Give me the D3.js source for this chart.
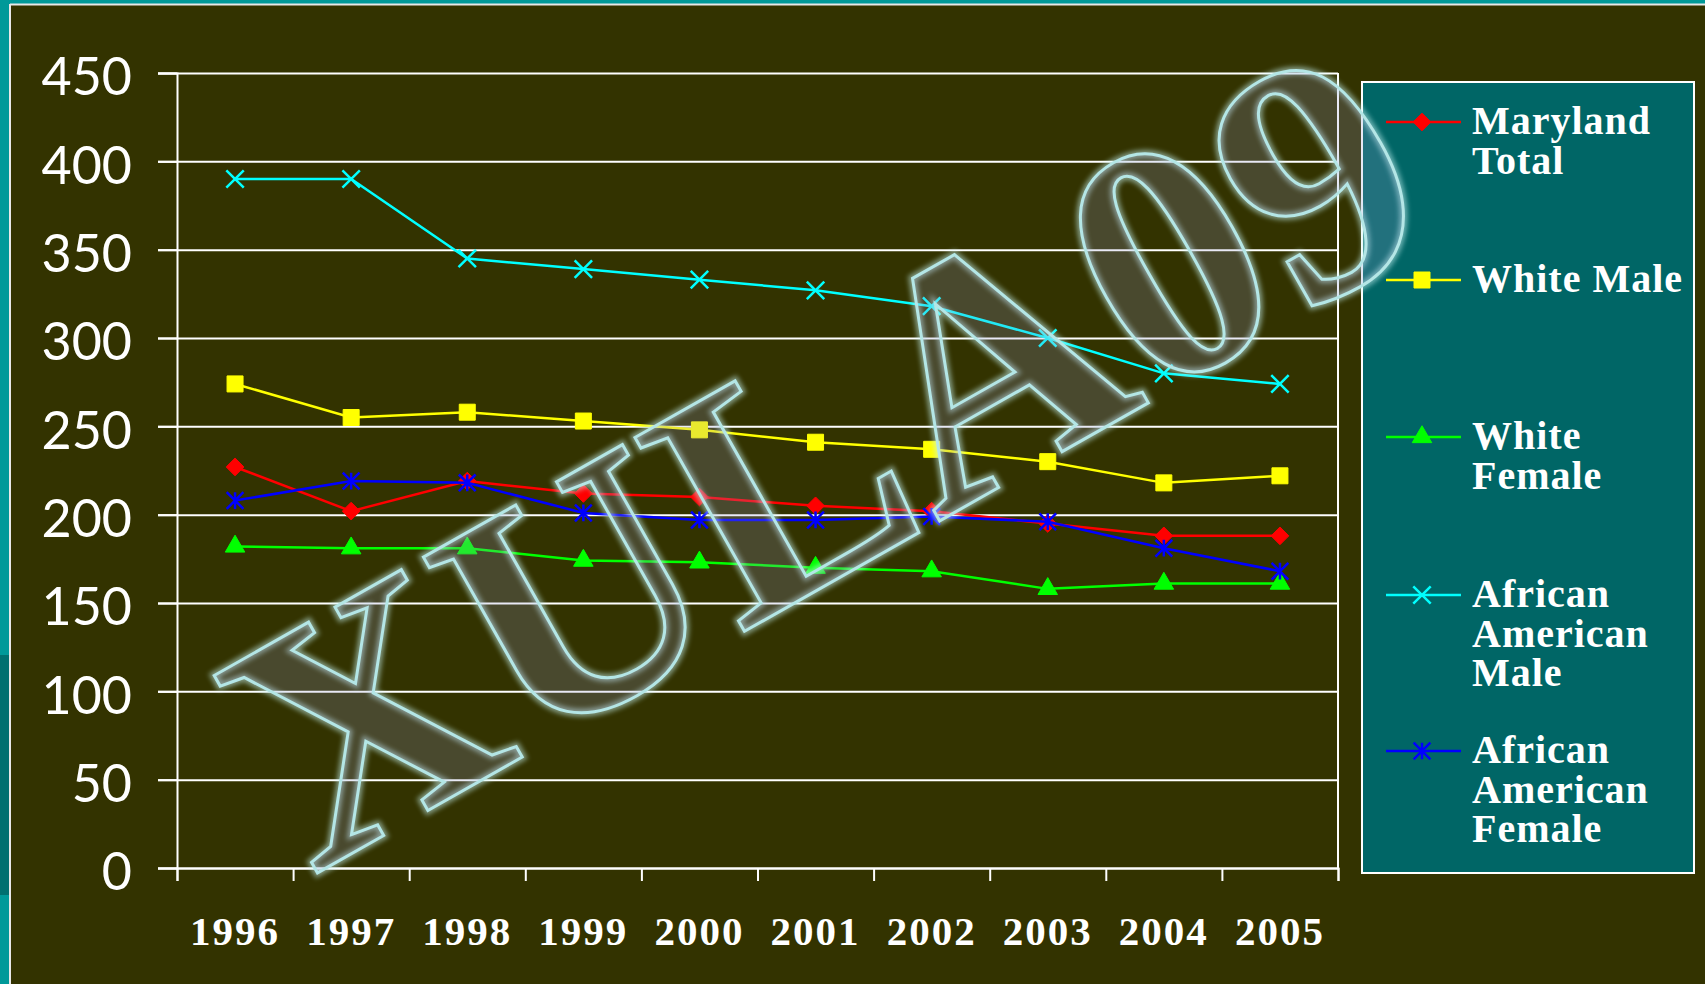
<!DOCTYPE html>
<html>
<head>
<meta charset="utf-8">
<script src="https://cdn.jsdelivr.net/npm/d3@7"></script>
<style>
  html, body { margin: 0; padding: 0; background: #333300; }
  svg { display: block; }
</style>
</head>
<body>
<div id="chart"></div>
<script>

// chart values
var years = ["1996", "1997", "1998", "1999", "2000", "2001", "2002", "2003", "2004", "2005"];
var yTicks = [0, 50, 100, 150, 200, 250, 300, 350, 400, 450];

var marylandTotal = [227, 202, 219, 212, 210, 205, 202, 195, 188, 188];
var whiteMale     = [274, 255, 258, 253, 248, 241, 237, 230, 218, 222];
var whiteFemale   = [182, 181, 181, 174, 173, 170, 168, 158, 161, 161];
var afAmMale      = [390, 390, 345, 339, 333, 327, 318, 300, 280, 274];
var afAmFemale    = [208, 219, 218, 201, 197, 197, 199, 196, 181, 168];

var seriesNames = [["Maryland", "Total"], ["White Male"], ["White", "Female"],
                   ["African", "American", "Male"], ["African", "American", "Female"]];

var W = 1705, H = 984;
var plotLeft = 177, plotRight = 1338, plotTop = 73, plotBottom = 868;

// excel style star: an x with a vertical bar through it
var symbolStar = {
  draw: function(ctx, size) {
    var r = Math.sqrt(size) / 2;
    ctx.moveTo(-r, -r); ctx.lineTo(r, r);
    ctx.moveTo(-r, r); ctx.lineTo(r, -r);
    ctx.moveTo(0, -r); ctx.lineTo(0, r);
  }
};

var series = [
  { values: marylandTotal, color: "#ff0000", sym: d3.symbolDiamond2 || d3.symbolDiamond, size: 200, filled: true },
  { values: whiteMale,     color: "#ffff00", sym: d3.symbolSquare, size: 256, filled: true },
  { values: whiteFemale,   color: "#00ff00", sym: d3.symbolTriangle, size: 165, filled: true },
  { values: afAmMale,      color: "#00ffff", sym: d3.symbolX, size: 200, filled: false },
  { values: afAmFemale,    color: "#0000ff", sym: symbolStar, size: 280, filled: false }
];

var svg = d3.select("#chart").append("svg")
  .attr("width", W)
  .attr("height", H);

// slide background and frame
svg.append("rect").attr("width", W).attr("height", H).attr("fill", "#333300");
svg.append("rect").attr("x", 0).attr("y", 0).attr("width", 10).attr("height", H).attr("fill", "#009999");
svg.append("rect").attr("x", 0).attr("y", 655).attr("width", 10).attr("height", 240).attr("fill", "#007070");
svg.append("rect").attr("x", 0).attr("y", 0).attr("width", W).attr("height", 4).attr("fill", "#009999");
svg.append("line").attr("x1", 10).attr("x2", 10).attr("y1", 4).attr("y2", H)
  .attr("stroke", "#e8e8e8").attr("stroke-width", 2);
svg.append("line").attr("x1", 10).attr("x2", W).attr("y1", 4.5).attr("y2", 4.5)
  .attr("stroke", "#e8e8e8").attr("stroke-width", 2);

var x = d3.scaleBand().domain(years).range([plotLeft, plotRight]);
var xEdge = d3.scaleLinear().domain([0, years.length]).range([plotLeft, plotRight]);
var y = d3.scaleLinear().domain([0, 450]).range([plotBottom, plotTop]);

// grid lines
svg.append("g")
  .attr("transform", "translate(" + plotRight + ",0)")
  .call(d3.axisLeft(y).tickValues(yTicks).tickSize(plotRight - plotLeft + 19).tickFormat(""))
  .call(function(g) { g.select(".domain").remove(); })
  .selectAll("line").attr("stroke", "#ffffff").attr("stroke-width", 2);

// y axis
var yAxis = svg.append("g")
  .attr("transform", "translate(" + plotLeft + ",0)")
  .call(d3.axisLeft(y).tickValues(yTicks).tickSize(19).tickPadding(26));
yAxis.select(".domain").attr("stroke", "#ffffff").attr("stroke-width", 2);
yAxis.selectAll("line").attr("stroke", "#ffffff").attr("stroke-width", 2);
yAxis.selectAll("text")
  .attr("fill", "#ffffff")
  .attr("dy", "0.42em")
  .style("font-family", "Lato, 'Open Sans', sans-serif")
  .style("font-size", "52px");

// right border of plot area
svg.append("line")
  .attr("x1", plotRight).attr("x2", plotRight).attr("y1", y(450)).attr("y2", y(0))
  .attr("stroke", "#ffffff").attr("stroke-width", 2);

// x axis: ticks on band edges, labels in band centres
var xTicks = svg.append("g")
  .attr("transform", "translate(0," + plotBottom + ")")
  .call(d3.axisBottom(xEdge).tickValues(d3.range(years.length + 1)).tickSize(13).tickFormat(""));
xTicks.select(".domain").attr("stroke", "#ffffff").attr("stroke-width", 2);
xTicks.selectAll("line").attr("stroke", "#ffffff").attr("stroke-width", 2);

var xAxis = svg.append("g")
  .attr("transform", "translate(0," + plotBottom + ")")
  .call(d3.axisBottom(x).tickSize(0).tickPadding(48));
xAxis.select(".domain").remove();
xAxis.selectAll("text")
  .attr("fill", "#ffffff")
  .style("font-family", "'Liberation Serif', 'Times New Roman', serif")
  .style("font-weight", "bold")
  .style("font-size", "41px")
  .style("letter-spacing", "2px");

// series
var line = d3.line()
  .x(function(d, i) { return x(years[i]) + x.bandwidth() / 2; })
  .y(function(d) { return y(d); });

series.forEach(function(s) {
  svg.append("path")
    .datum(s.values)
    .attr("d", line)
    .attr("fill", "none")
    .attr("stroke", s.color)
    .attr("stroke-width", 2.5);

  svg.selectAll(null)
    .data(s.values)
    .enter()
    .append("path")
    .attr("transform", function(d, i) {
      return "translate(" + (x(years[i]) + x.bandwidth() / 2) + "," + y(d) + ")";
    })
    .attr("d", d3.symbol().type(s.sym).size(s.size))
    .attr("fill", s.filled ? s.color : "none")
    .attr("stroke", s.color)
    .attr("stroke-width", s.filled ? 1 : 2.5);
});

// legend
var legend = svg.append("g").attr("transform", "translate(1362,82)");
legend.append("rect")
  .attr("width", 332).attr("height", 791)
  .attr("fill", "#006666")
  .attr("stroke", "#ffffff").attr("stroke-width", 2);

var legendY = [40, 198, 355, 513, 669];

series.forEach(function(s, k) {
  var g = legend.append("g").attr("transform", "translate(0," + legendY[k] + ")");
  g.append("line").attr("x1", 24).attr("x2", 99).attr("y1", 0).attr("y2", 0)
    .attr("stroke", s.color).attr("stroke-width", 2.5);
  g.append("path")
    .attr("transform", "translate(60,0)")
    .attr("d", d3.symbol().type(s.sym).size(s.size))
    .attr("fill", s.filled ? s.color : "none")
    .attr("stroke", s.color)
    .attr("stroke-width", s.filled ? 1 : 2.5);
  g.selectAll("text")
    .data(seriesNames[k])
    .enter()
    .append("text")
    .attr("x", 110)
    .attr("y", function(d, i) { return 12 + i * 39.5; })
    .attr("fill", "#ffffff")
    .style("font-family", "'Liberation Serif', 'Times New Roman', serif")
    .style("font-weight", "bold")
    .style("font-size", "40px")
    .style("letter-spacing", "1px")
    .text(function(d) { return d; });
});

// watermark across the chart
var defs = svg.append("defs");
defs.append("filter").attr("id", "glow")
  .append("feGaussianBlur").attr("stdDeviation", 2.5);

var wm = svg.append("g").attr("transform", "translate(312,876) rotate(-29.5)");
wm.append("text")
  .text("XULA09")
  .attr("fill", "none")
  .attr("stroke", "#c8f4f4")
  .attr("stroke-width", 8)
  .attr("opacity", 0.55)
  .attr("filter", "url(#glow)")
  .style("font-family", "'Liberation Serif', 'Times New Roman', serif")
  .style("font-weight", "bold")
  .style("font-size", "340px");
wm.append("text")
  .text("XULA09")
  .attr("fill", "#9a9ad0")
  .attr("fill-opacity", 0.22)
  .attr("stroke", "#b4e6e6")
  .attr("stroke-width", 3)
  .style("font-family", "'Liberation Serif', 'Times New Roman', serif")
  .style("font-weight", "bold")
  .style("font-size", "340px");

</script>
</body>
</html>
